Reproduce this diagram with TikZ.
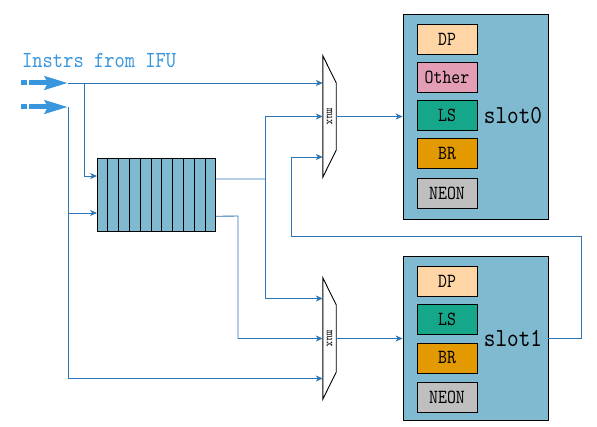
\documentclass[tikz,border=0pt]{standalone}
\usepackage{fontspec}
\usetikzlibrary{arrows.meta,calc}
\newfontfamily\slotfont[Extension=.otf,FakeStretch=0.85]{lmmono10-regular}
\definecolor{wire}{HTML}{2E75B6}
\definecolor{ifu}{HTML}{3996DC}
\definecolor{slotbg}{HTML}{80BAD0}
\definecolor{dpcol}{HTML}{FFD5A6}
\definecolor{othercol}{HTML}{E39DB4}
\definecolor{lscol}{HTML}{16A68A}
\definecolor{brcol}{HTML}{E39A00}
\definecolor{neoncol}{HTML}{BFBFBF}

\begin{document}
\begin{tikzpicture}[x=1pt,y=-1pt,
    >={Stealth[length=7pt,width=6pt,inset=2pt]},
    wire/.style={draw=wire,line width=0.9pt},
    ifuarrow/.style={draw=ifu,line width=5pt,
      dash pattern=on 2.6pt off 0.7pt on 2.7pt off 1.6pt on 80pt,
      -{Stealth[length=23pt,width=13pt,inset=3pt]}},
    unit/.style={draw,line width=0.8pt,minimum width=60pt,minimum height=30pt,
      inner sep=0pt,font=\slotfont\fontsize{20}{20}\selectfont},
    slotbox/.style={draw,line width=0.8pt,fill=slotbg,minimum width=145pt,inner sep=0pt},
    slotname/.style={inner sep=0pt,font=\slotfont\fontsize{26}{26}\selectfont},
    muxbox/.style={minimum width=13pt,minimum height=121pt,inner sep=0pt}
  ]
  \useasboundingbox (0,0) rectangle (597,427);

  % issue slots
  \node[slotbox,minimum height=205pt] (slot0) at (475.5,116.5) {};
  \foreach \name/\col/\y in {DP/dpcol/39,Other/othercol/77.5,LS/lscol/115.5,BR/brcol/153.5,NEON/neoncol/193}
    {\node[unit,fill=\col] (s0-\name) at (447,\y) {\name};};
  \node[slotname] (slot0-label) at (513,116) {slot0};

  \node[slotbox,minimum height=164pt] (slot1) at (475.5,338) {};
  \foreach \name/\col/\y in {DP/dpcol/281,LS/lscol/319.5,BR/brcol/358,NEON/neoncol/397}
    {\node[unit,fill=\col] (s1-\name) at (447,\y) {\name};};
  \node[slotname] (slot1-label) at (513,338) {slot1};

  % instruction queue
  \node[draw,line width=0.9pt,fill=slotbg,minimum width=118pt,minimum height=73pt,inner sep=0pt]
    (queue) at (156.5,194.5) {};
  \foreach \i in {1,...,10}
    {\draw[line width=0.9pt] ($(queue.north west)!\i/11!(queue.north east)$)
       -- ($(queue.south west)!\i/11!(queue.south east)$);};

  % muxes
  \foreach \m/\y in {0/116.5,1/338.5} {
    \node[muxbox] (mux\m) at (329.5,\y) {};
    \draw[line width=0.9pt] (mux\m.north west) -- ($(mux\m.north east)+(0,27)$)
      -- ($(mux\m.south east)+(0,-27)$) -- (mux\m.south west) -- cycle;
    \node[rotate=-90,inner sep=0pt,font=\slotfont\fontsize{12.5}{12.5}\selectfont]
      (mux\m-label) at (mux\m) {mux};
  }

  % instructions from the IFU
  \node[anchor=base west,inner sep=0pt,text=ifu,font=\slotfont\fontsize{23}{23}\selectfont]
    (title) at (22,68) {Instrs from IFU};
  \coordinate (ifu0-tail) at (21,83);
  \coordinate (ifu0) at (68,83);
  \coordinate (ifu1-tail) at (21,107);
  \coordinate (ifu1) at (68,107);
  \draw[ifuarrow] (ifu0-tail) -- (ifu0);
  \draw[ifuarrow] (ifu1-tail) -- (ifu1);

  \coordinate (fork0) at (84,83);
  \coordinate (fork1) at (68,213);
  \coordinate (qout0) at ($(queue.north east)!0.29!(queue.south east)$);
  \coordinate (qout1) at ($(queue.north east)!0.795!(queue.south east)$);
  \coordinate (qfork) at (265,179);
  \coordinate (qturn) at (238,216);
  \coordinate (fb) at (291,236);

  \draw[wire,->] (ifu0) -- (mux0.west |- ifu0);
  \draw[wire,->] (fork0) |- ($(queue.north west)!0.25!(queue.south west)$);
  \draw[wire,->] (ifu1) |- ($(mux1.west)+(0,40)$);
  \draw[wire,->] (fork1) -- (fork1 -| queue.west);

  \draw[wire] (qout0) -- (qfork);
  \draw[wire,->] (qfork |- mux0.west) -- (mux0.west);
  \draw[wire,->] (qfork |- mux0.west) |- ($(mux1.west)+(0,-40)$);
  \draw[wire,->] (qout1) -- (qturn) |- (mux1.west);

  \draw[wire,->] (mux0.east) -- (slot0.west);
  \draw[wire,->] (mux1.east) -- (mux1.east -| slot1.west);

  % slot1 back to mux0
  \draw[wire,->] (slot1.east) -- ++(33,0) |- (fb) |- ($(mux0.west)+(0,40.5)$);
\end{tikzpicture}
\end{document}
